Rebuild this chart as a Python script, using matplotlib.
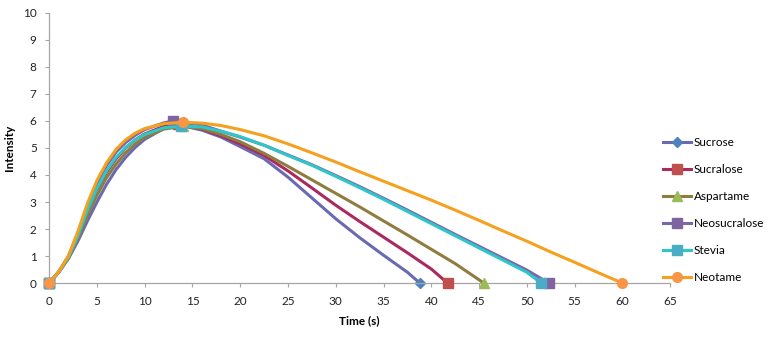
import matplotlib
matplotlib.use("Agg")
import matplotlib.pyplot as plt
import numpy as np

plt.rcParams["font.family"] = ["Lato", "DejaVu Sans"]

# time-intensity curves; markers sit at start, peak and end
names = ["Sucrose", "Sucralose", "Aspartame", "Neosucralose", "Stevia", "Neotame"]

sucrose_t = [0, 1, 2, 3, 4, 5, 6, 7, 8, 9, 10, 12, 13.6, 16, 18, 20, 22.5, 25, 27.5, 30, 32.5, 35, 37.5, 38.8]
sucrose_i = [0, 0.4, 0.9, 1.55, 2.3, 3.0, 3.65, 4.2, 4.65, 5.02, 5.32, 5.72, 5.85, 5.66, 5.4, 5.05, 4.6, 3.92, 3.15, 2.38, 1.68, 1.03, 0.4, 0]

sucralose_t = [0, 1, 2, 3, 4, 5, 6, 7, 8, 9, 10, 12, 13.5, 16, 18, 20, 22.5, 25, 27.5, 30, 32.5, 35, 37.5, 40, 41.7]
sucralose_i = [0, 0.42, 0.97, 1.75, 2.65, 3.45, 4.1, 4.6, 5.0, 5.3, 5.52, 5.8, 5.9, 5.7, 5.45, 5.15, 4.72, 4.15, 3.52, 2.88, 2.28, 1.7, 1.12, 0.52, 0]

aspartame_t = [0, 1, 2, 3, 4, 5, 6, 7, 8, 9, 10, 12, 14, 16, 18, 20, 22.5, 25, 27.5, 30, 32.5, 35, 37.5, 40, 42.5, 45.5]
aspartame_i = [0, 0.4, 0.92, 1.65, 2.5, 3.25, 3.9, 4.4, 4.82, 5.15, 5.4, 5.7, 5.8, 5.72, 5.5, 5.23, 4.8, 4.32, 3.82, 3.32, 2.82, 2.3, 1.78, 1.25, 0.72, 0]

neosucralose_t = [0, 1, 2, 3, 4, 5, 6, 7, 8, 9, 10, 12, 13, 16, 18, 20, 22.5, 25, 27.5, 30, 32.5, 35, 37.5, 40, 42.5, 45, 47.5, 50, 52.3]
neosucralose_i = [0, 0.42, 0.98, 1.85, 2.85, 3.7, 4.35, 4.85, 5.2, 5.47, 5.68, 5.93, 6.0, 5.85, 5.62, 5.4, 5.1, 4.74, 4.38, 3.98, 3.57, 3.14, 2.7, 2.25, 1.8, 1.36, 0.92, 0.48, 0]

stevia_t = [0, 1, 2, 3, 4, 5, 6, 7, 8, 9, 10, 12, 13.8, 16, 18, 20, 22.5, 25, 27.5, 30, 32.5, 35, 37.5, 40, 42.5, 45, 47.5, 50, 51.5]
stevia_i = [0, 0.42, 0.95, 1.75, 2.7, 3.5, 4.15, 4.65, 5.02, 5.3, 5.5, 5.75, 5.8, 5.78, 5.62, 5.42, 5.1, 4.72, 4.36, 3.95, 3.53, 3.1, 2.65, 2.2, 1.75, 1.3, 0.85, 0.4, 0]

neotame_t = [0, 1, 2, 3, 4, 5, 6, 7, 8, 9, 10, 12, 14, 16, 18, 20, 22.5, 25, 27.5, 30, 32.5, 35, 37.5, 40, 42.5, 45, 47.5, 50, 52.5, 55, 57.5, 60]
neotame_i = [0, 0.42, 1.0, 1.9, 2.95, 3.8, 4.45, 4.95, 5.3, 5.55, 5.72, 5.9, 5.95, 5.92, 5.83, 5.68, 5.45, 5.15, 4.82, 4.48, 4.12, 3.77, 3.42, 3.07, 2.7, 2.32, 1.93, 1.55, 1.15, 0.77, 0.38, 0]

times = [sucrose_t, sucralose_t, aspartame_t, neosucralose_t, stevia_t, neotame_t]
values = [sucrose_i, sucralose_i, aspartame_i, neosucralose_i, stevia_i, neotame_i]

line_colors = ["#6a6ab2", "#a82a5e", "#8f7d40", "#7a66aa", "#2ec6c8", "#f5a01e"]
marker_colors = ["#4f81bd", "#c0504d", "#9bbb59", "#8064a2", "#4bacc6", "#f79646"]
markers = ["D", "s", "^", "s", "s", "o"]
marker_sizes = [5, 7, 7, 7, 7, 7]

fig = plt.figure(figsize=(7.81, 3.39), dpi=100)
ax = fig.add_axes([0.063, 0.165, 0.795, 0.797])

for i, name in enumerate(names):
    t = times[i]
    v = values[i]
    peak = int(np.argmax(v))
    ax.plot(t, v, color=line_colors[i], lw=2.2, marker=markers[i], ms=marker_sizes[i],
            mfc=marker_colors[i], mec=marker_colors[i], markevery=[0, peak, len(t) - 1],
            label=name, zorder=2 + i, clip_on=False, solid_joinstyle="round")

ax.set_xlim(0, 65)
ax.set_ylim(0, 10)
ax.set_xticks(np.arange(0, 66, 5))
ax.set_yticks(np.arange(0, 11, 1))
for s in ["top", "right"]:
    ax.spines[s].set_visible(False)
for s in ["left", "bottom"]:
    ax.spines[s].set_color("#a6a6a6")
    ax.spines[s].set_linewidth(0.9)
ax.tick_params(axis="both", direction="out", length=3, width=0.8, color="#a6a6a6",
               labelsize=8.5, labelcolor="#222222", pad=6)
ax.set_xlabel("Time (s)", fontsize=8.5, fontweight="bold", labelpad=6)
ax.set_ylabel("Intensity", fontsize=8.5, fontweight="bold", labelpad=6)

fig.legend(loc="upper left", bbox_to_anchor=(663 / 781, 1 - 137 / 339),
           frameon=False, fontsize=8.5, labelspacing=1.35, handlelength=2.4,
           handletextpad=0.2, borderpad=0, borderaxespad=0)

fig.savefig("out.png", dpi=100)
